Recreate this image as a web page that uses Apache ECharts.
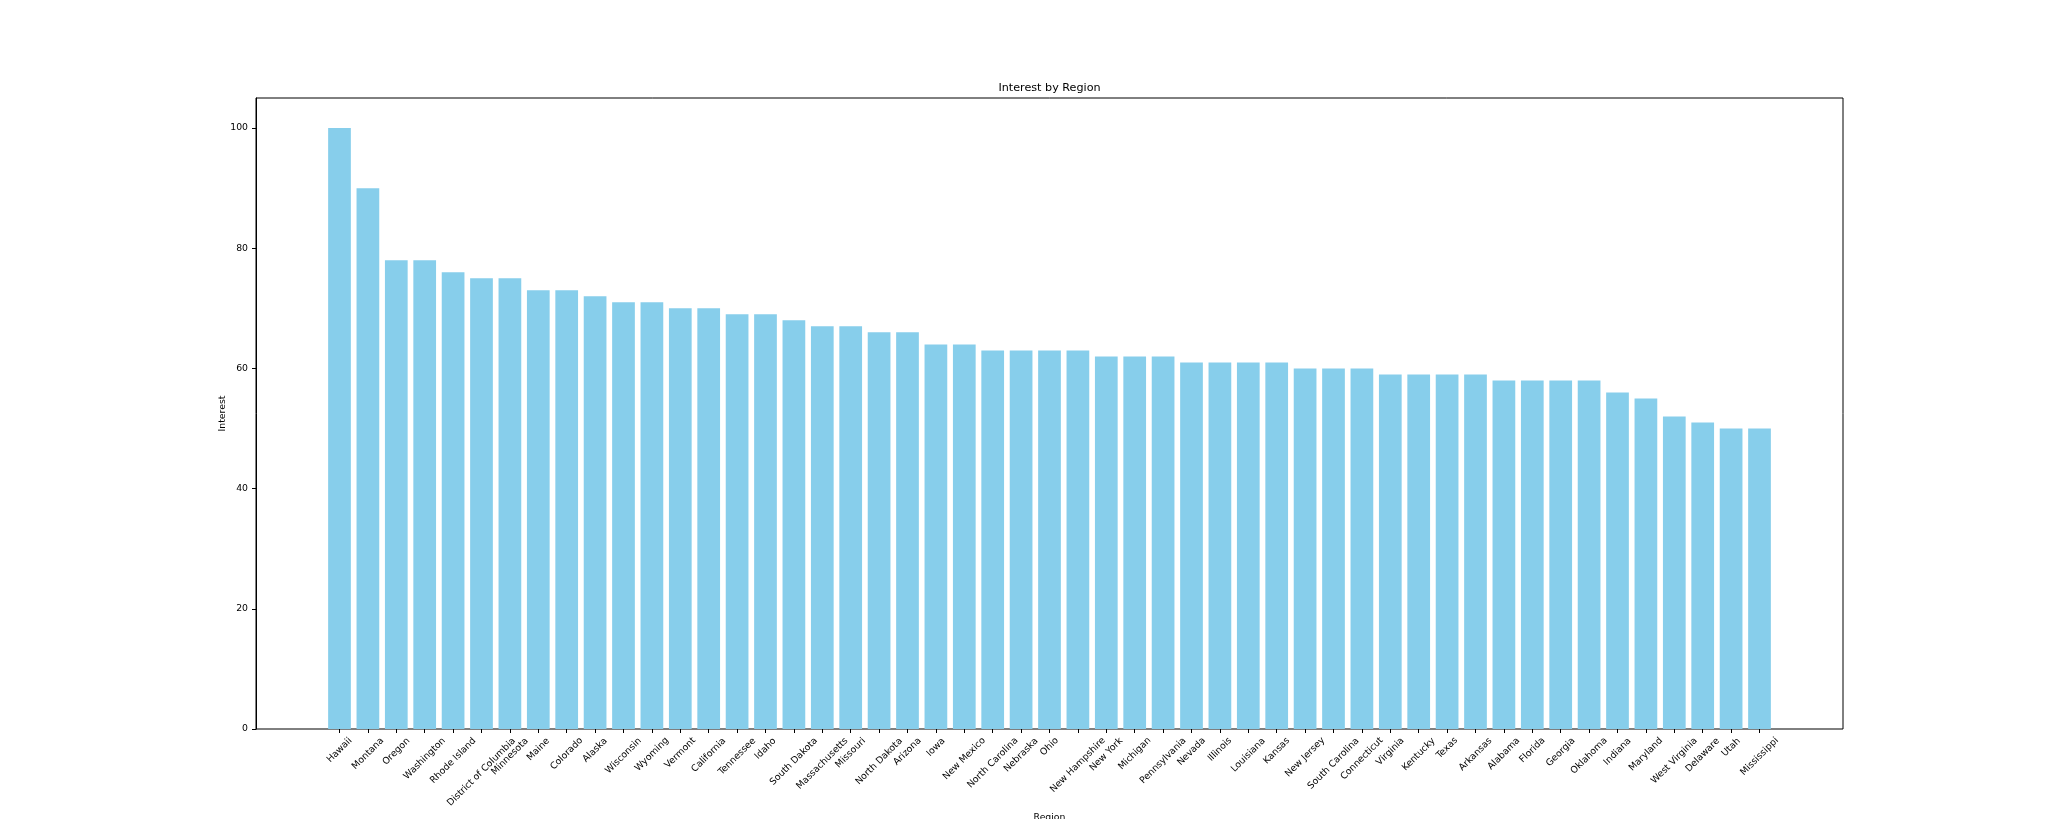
<!DOCTYPE html>
<html>
<head>
<meta charset="utf-8">
<title>Interest by Region</title>
<script src="https://cdn.jsdelivr.net/npm/echarts@6/dist/echarts.min.js"></script>
<style>
	html, body { margin: 0; padding: 0; background: #fff; }
	#main { width: 2048px; height: 819px; }
</style>
</head>
<body>
<div id="main"></div>
<script type="text/javascript">
/* data */
var regions = ['Hawaii','Montana','Oregon','Washington','Rhode Island','District of Columbia','Minnesota','Maine','Colorado','Alaska',
	'Wisconsin','Wyoming','Vermont','California','Tennessee','Idaho','South Dakota','Massachusetts','Missouri','North Dakota',
	'Arizona','Iowa','New Mexico','North Carolina','Nebraska','Ohio','New Hampshire','New York','Michigan','Pennsylvania',
	'Nevada','Illinois','Louisiana','Kansas','New Jersey','South Carolina','Connecticut','Virginia','Kentucky','Texas',
	'Arkansas','Alabama','Florida','Georgia','Oklahoma','Indiana','Maryland','West Virginia','Delaware','Utah','Mississippi'];
var interest = [100,90,78,78,76,75,75,73,73,72,
	71,71,70,70,69,69,68,67,67,66,
	66,64,64,63,63,63,63,62,62,62,
	61,61,61,61,60,60,60,59,59,59,
	59,58,58,58,58,56,55,52,51,50,50];
var yTicks = [0, 20, 40, 60, 80, 100];

var FONT = 'DejaVu Sans';
var FS = 9.3;      // tick / axis label size
var FS_T = 11.2;   // title size

// axes box in pixels (matplotlib-like frame)
var axL = 256, axR = 1843, axT = 98, axB = 729;
// matplotlib puts 5% margin around bars (-0.4 .. n-0.6)
var n = regions.length;
var span = (n - 1 + 0.8) * 1.1;
var unit = (axR - axL) / span;
var inset = (span - n) / 2 * unit;

// rotated labels are centred on the tick like matplotlib: shift each via rich padding
var ctx = document.createElement('canvas').getContext('2d');
ctx.font = FS + 'px "' + FONT + '"';
var rich = {};
for (var i = 0; i < n; i++) {
	var L = ctx.measureText(regions[i]).width;
	var P = Math.round(0.5 * (L + FS));
	rich['r' + i] = { fontFamily: FONT, fontSize: FS, color: '#000', padding: [P, P, 0, 0] };
}

var myChart = echarts.init(document.getElementById('main'));
var option = {
	backgroundColor: '#fff',
	animation: false,
	textStyle: { fontFamily: FONT },
	grid: [
		{ left: axL, right: 2048 - axR, top: axT, bottom: 819 - axB, outerBoundsMode: 'none', containLabel: false,
			show: true, borderColor: '#000', borderWidth: 1, backgroundColor: 'transparent' },
		{ left: axL + inset, right: 2048 - axR + inset, top: axT, bottom: 819 - axB, outerBoundsMode: 'none', containLabel: false }
	],
	xAxis: [
		{
			gridIndex: 0, type: 'value', position: 'top',
			name: 'Interest by Region', nameLocation: 'middle', nameGap: 4, nameMoveOverlap: false,
			nameTextStyle: { fontFamily: FONT, fontSize: FS_T, color: '#000' },
			axisLine: { show: false }, axisTick: { show: false }, axisLabel: { show: false }, splitLine: { show: false }
		},
		{
			gridIndex: 1, type: 'category', data: regions,
			name: 'Region', nameLocation: 'middle', nameGap: 84, nameMoveOverlap: false,
			nameTextStyle: { fontFamily: FONT, fontSize: FS, color: '#000', verticalAlign: 'top' },
			axisLine: { show: false },
			axisTick: { show: true, alignWithLabel: true, length: 4, lineStyle: { color: '#000', width: 1 } },
			axisLabel: {
				interval: 0, rotate: 45, margin: 7, align: 'center', verticalAlign: 'middle',
				hideOverlap: false,
				formatter: function (v, idx) { return '{r' + idx + '|' + v + '}'; },
				rich: rich
			}
		}
	],
	yAxis: [
		{
			gridIndex: 0, type: 'value', min: 0, max: 105,
			name: 'Interest', nameLocation: 'middle', nameGap: 29, nameMoveOverlap: false,
			nameTextStyle: { fontFamily: FONT, fontSize: FS, color: '#000' },
			axisLine: { show: true, lineStyle: { color: '#000', width: 1 } },
			axisTick: { show: true, length: 4, customValues: yTicks, lineStyle: { color: '#000', width: 1 } },
			axisLabel: { margin: 8, fontFamily: FONT, fontSize: FS, color: '#000', customValues: yTicks },
			splitLine: { show: false }
		},
		{
			gridIndex: 1, type: 'value', min: 0, max: 105, show: false, splitLine: { show: false }
		}
	],
	series: [
		{
			name: 'Interest',
			type: 'bar',
			xAxisIndex: 1,
			yAxisIndex: 1,
			data: interest,
			barCategoryGap: '20%',
			itemStyle: { color: '#87CEEB' }
		}
	]
};
myChart.setOption(option, true);
</script>
</body>
</html>
